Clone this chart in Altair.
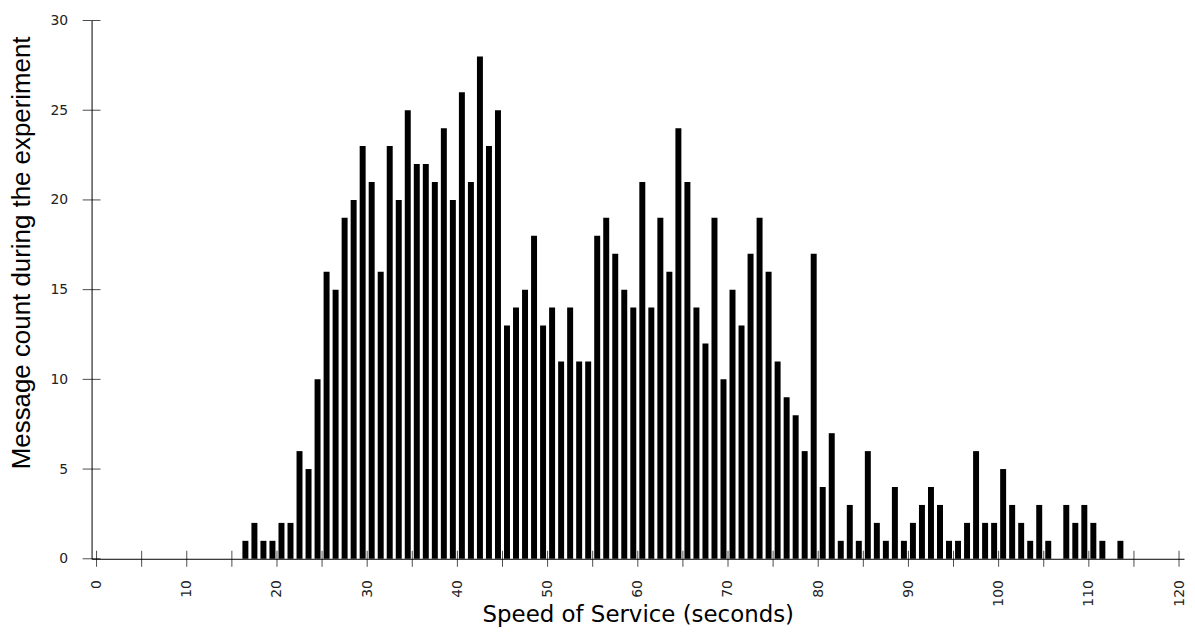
import altair as alt
import pandas as pd

speeds = list(range(16, 114))
counts = [1, 2, 1, 1, 2, 2, 6, 5, 10, 16,
          15, 19, 20, 23, 21, 16, 23, 20, 25, 22,
          22, 21, 24, 20, 26, 21, 28, 23, 25, 13,
          14, 15, 18, 13, 14, 11, 14, 11, 11, 18,
          19, 17, 15, 14, 21, 14, 19, 16, 24, 21,
          14, 12, 19, 10, 15, 13, 17, 19, 16, 11,
          9, 8, 6, 17, 4, 7, 1, 3, 1, 6,
          2, 1, 4, 1, 2, 3, 4, 3, 1, 1,
          2, 6, 2, 2, 5, 3, 2, 1, 3, 1,
          0, 3, 2, 3, 2, 1, 0, 1]
x_ticks = list(range(0, 121, 5))
y_ticks = list(range(0, 31, 5))
x_title = "Speed of Service (seconds)"
y_title = "Message count during the experiment"

df = pd.DataFrame({"speed": speeds, "count": counts})
xt_df = pd.DataFrame({"center": x_ticks})
yt_df = pd.DataFrame({"count": y_ticks})

xscale = alt.Scale(domain=[0, 120], nice=False, zero=True)
yscale = alt.Scale(domain=[0, 30], nice=False)

label_font = "DejaVu Sans"

bars = alt.Chart(df).transform_calculate(center="datum.speed + 0.5").mark_bar(
    color="black", size=6
).encode(
    x=alt.X("center:Q", scale=xscale,
            axis=alt.Axis(values=x_ticks, orient="bottom",
                          labelExpr="datum.value % 10 == 0 ? datum.label : ''",
                          labelAngle=270, labelFont=label_font, labelFontSize=14,
                          labelColor="#222", labelPadding=21, ticks=False,
                          domainColor="black", grid=False,
                          labelFlush=False, labelOverlap=False,
                          title=x_title, titleFont="DejaVu Sans", titleFontSize=23,
                          titleFontWeight="normal", titleColor="black",
                          titleBaseline="alphabetic", titleY=63, titleAnchor="middle")),
    y=alt.Y("count:Q", scale=yscale,
            axis=alt.Axis(values=y_ticks, orient="left", labelFont=label_font,
                          labelFontSize=14, labelColor="#222", labelPadding=24,
                          ticks=False, domainColor="black",
                          grid=False, labelFlush=False,
                          title=y_title, titleFont="Liberation Sans", titleFontSize=26,
                          titleFontWeight="normal", titleColor="black",
                          titleAlign="center", titleBaseline="alphabetic",
                          titleAngle=270, titleX=-62, titleY=233)),
)

x_tick_marks = alt.Chart(xt_df).mark_tick(
    color="black", thickness=1, size=16, orient="vertical"
).encode(
    x=alt.X("center:Q", scale=xscale),
    y=alt.value(541),
)

y_tick_marks = alt.Chart(yt_df).mark_tick(
    color="black", thickness=1, size=18, orient="horizontal"
).encode(
    y=alt.Y("count:Q", scale=yscale),
    x=alt.value(0),
)

chart = alt.layer(bars, x_tick_marks, y_tick_marks).properties(
    width=1098,
    height=541,
    padding={"left": 84, "top": 11, "right": 3, "bottom": 67},
    autosize=alt.AutoSizeParams(type="none"),
).configure_view(stroke=None)

chart.save("out.html", embed_options={"renderer": "svg", "actions": False})
